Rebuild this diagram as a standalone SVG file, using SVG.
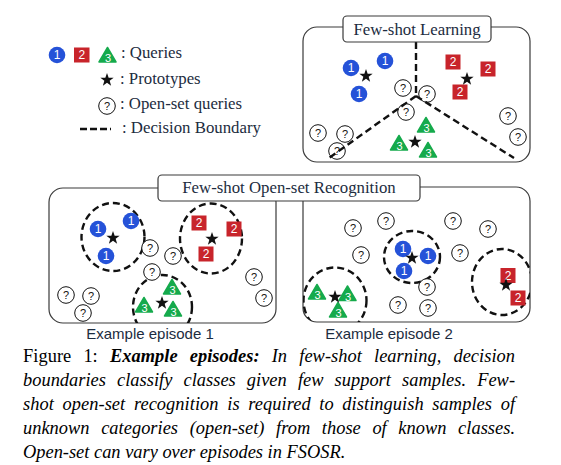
<svg xmlns="http://www.w3.org/2000/svg" xmlns:xlink="http://www.w3.org/1999/xlink" width="561" height="465" viewBox="0 0 561 465">
<style>
.box{fill:#fff;stroke:#3a3a3a;stroke-width:1.2}
.t{font-family:"Liberation Serif","Times New Roman",serif;font-size:16.8px;fill:#1c2c40}
.mid{text-anchor:middle}
.b{fill:#2552d8}
.r{fill:#c8242b}
.g{fill:#15aa4c;stroke:#15aa4c;stroke-width:1.5;stroke-linejoin:round}
.num{font-family:"Liberation Sans",Arial,sans-serif;font-size:12px;fill:#fff;text-anchor:middle}
.n3{font-family:"Liberation Sans",Arial,sans-serif;font-size:11px;fill:#fff;text-anchor:middle}
.q{fill:#fff;stroke:#111;stroke-width:1}
.qt{font-family:"Liberation Sans",Arial,sans-serif;font-size:11px;fill:#111;text-anchor:middle}
.dash{fill:none;stroke:#111;stroke-width:2.4;stroke-dasharray:7 4}
.star{fill:#111}
.ep{font-family:"Liberation Sans",Arial,sans-serif;font-size:15px;fill:#1c2c40;text-anchor:middle}
.cap{font-family:"Liberation Serif","Times New Roman",serif;font-size:18.4px;fill:#000}
</style>
<defs>
<path id="star" class="star" d="M0,-7 L1.65,-2.27 L6.66,-2.16 L2.66,0.87 L4.11,5.66 L0,2.8 L-4.11,5.66 L-2.66,0.87 L-6.66,-2.16 L-1.65,-2.27 Z"/>
<path id="tri" d="M0,-7.5 L8.5,7 L-8.5,7 Z"/>
<clipPath id="clip1"><rect x="49" y="188" width="227" height="135" rx="14"/></clipPath>
<clipPath id="clip2"><rect x="303" y="187" width="227" height="135" rx="14"/></clipPath>
</defs>

<g id="legend">
<circle class="b" cx="57" cy="55" r="8.3"/><text class="num" x="57" y="59.3">1</text>
<rect class="r" x="74" y="47.5" width="15.5" height="15"/><text class="num" x="81.8" y="59.3">2</text>
<use xlink:href="#tri" class="g" x="107.5" y="55"/><text class="n3" x="108" y="62">3</text>
<text class="t" x="121" y="58.3">: Queries</text>
<use xlink:href="#star" x="107" y="80"/>
<text class="t" x="120" y="84">: Prototypes</text>
<circle class="q" cx="107" cy="106" r="8.3"/><text class="qt" x="107" y="110">?</text>
<text class="t" x="120" y="109.3">: Open-set queries</text>
<line x1="80" y1="129" x2="111" y2="129" stroke="#111" stroke-width="2.4" stroke-dasharray="7 3"/>
<text class="t" x="122" y="133.3">: Decision Boundary</text>
</g>

<g id="few-shot-learning">
<rect class="box" x="303" y="27" width="227" height="135" rx="14"/>
<circle class="b" cx="351" cy="68" r="8.3"/><text class="num" x="351" y="72.3">1</text>
<circle class="b" cx="385" cy="61" r="8.3"/><text class="num" x="385" y="65.3">1</text>
<circle class="b" cx="359" cy="94" r="8.3"/><text class="num" x="359" y="98.3">1</text>
<use xlink:href="#star" x="366" y="76"/>
<rect class="r" x="445.5" y="54.5" width="15" height="15"/><text class="num" x="453" y="66.3">2</text>
<rect class="r" x="480.5" y="61.5" width="15" height="15"/><text class="num" x="488" y="73.3">2</text>
<rect class="r" x="452.5" y="84.5" width="15" height="15"/><text class="num" x="460" y="96.3">2</text>
<use xlink:href="#star" x="467" y="79"/>
<use xlink:href="#tri" class="g" x="426" y="125"/><text class="n3" x="426.5" y="132">3</text>
<use xlink:href="#tri" class="g" x="399" y="143"/><text class="n3" x="399.5" y="150">3</text>
<use xlink:href="#tri" class="g" x="428" y="150"/><text class="n3" x="428.5" y="157">3</text>
<use xlink:href="#star" x="415" y="142"/>
<circle class="q" cx="403" cy="88" r="8.3"/><text class="qt" x="403" y="92">?</text>
<circle class="q" cx="427" cy="94" r="8.3"/><text class="qt" x="427" y="98">?</text>
<circle class="q" cx="406" cy="112" r="8.3"/><text class="qt" x="406" y="116">?</text>
<circle class="q" cx="508" cy="116" r="8.3"/><text class="qt" x="508" y="120">?</text>
<circle class="q" cx="518" cy="137" r="8.3"/><text class="qt" x="518" y="141">?</text>
<circle class="q" cx="318" cy="133" r="8.3"/><text class="qt" x="318" y="137">?</text>
<circle class="q" cx="345" cy="134" r="8.3"/><text class="qt" x="345" y="138">?</text>
<circle class="q" cx="337" cy="151" r="8.3"/><text class="qt" x="337" y="155">?</text>
<g id="boundaries">
<line class="dash" x1="416" y1="42" x2="416" y2="96"/>
<line class="dash" x1="416" y1="96" x2="329" y2="158"/>
<line class="dash" x1="416" y1="96" x2="514" y2="158"/>
</g>
<rect class="box" x="343" y="16" width="148" height="26" rx="4"/>
<text class="t mid" x="417" y="35">Few-shot Learning</text>
</g>

<g id="episode-1">
<rect class="box" x="49" y="188" width="227" height="135" rx="14"/>
<g clip-path="url(#clip1)">
<ellipse class="dash" cx="113" cy="237" rx="31.5" ry="34"/>
<ellipse class="dash" cx="211" cy="238.5" rx="31" ry="35"/>
<ellipse class="dash" cx="162.5" cy="307" rx="29.5" ry="32"/>
</g>
<circle class="q" cx="150" cy="248" r="8.3"/><text class="qt" x="150" y="252">?</text>
<circle class="q" cx="173" cy="256" r="8.3"/><text class="qt" x="173" y="260">?</text>
<circle class="q" cx="152" cy="272" r="8.3"/><text class="qt" x="152" y="276">?</text>
<circle class="q" cx="254" cy="277" r="8.3"/><text class="qt" x="254" y="281">?</text>
<circle class="q" cx="264" cy="298" r="8.3"/><text class="qt" x="264" y="302">?</text>
<circle class="q" cx="66" cy="295" r="8.3"/><text class="qt" x="66" y="299">?</text>
<circle class="q" cx="91" cy="296" r="8.3"/><text class="qt" x="91" y="300">?</text>
<circle class="q" cx="83" cy="313" r="8.3"/><text class="qt" x="83" y="317">?</text>
<circle class="b" cx="98" cy="229" r="8.3"/><text class="num" x="98" y="233.3">1</text>
<circle class="b" cx="131" cy="221" r="8.3"/><text class="num" x="131" y="225.3">1</text>
<circle class="b" cx="106" cy="256" r="8.3"/><text class="num" x="106" y="260.3">1</text>
<use xlink:href="#star" x="113" y="238"/>
<rect class="r" x="191.5" y="215.5" width="15" height="15"/><text class="num" x="199" y="227.3">2</text>
<rect class="r" x="226.5" y="221.5" width="15" height="15"/><text class="num" x="234" y="233.3">2</text>
<rect class="r" x="198.5" y="246.5" width="15" height="15"/><text class="num" x="206" y="258.3">2</text>
<use xlink:href="#star" x="212" y="239"/>
<use xlink:href="#tri" class="g" x="172" y="287"/><text class="n3" x="172.5" y="294">3</text>
<use xlink:href="#tri" class="g" x="144" y="305"/><text class="n3" x="144.5" y="312">3</text>
<use xlink:href="#tri" class="g" x="173" y="309"/><text class="n3" x="173.5" y="316">3</text>
<use xlink:href="#star" x="162" y="303"/>
<text class="ep" x="150" y="339">Example episode 1</text>
</g>

<g id="episode-2">
<rect class="box" x="303" y="187" width="227" height="135" rx="14"/>
<g clip-path="url(#clip2)">
<ellipse class="dash" cx="412" cy="257" rx="28" ry="26"/>
<ellipse class="dash" cx="502" cy="282" rx="30" ry="33"/>
<ellipse class="dash" cx="335" cy="300.5" rx="31.5" ry="33"/>
</g>
<circle class="q" cx="353" cy="228" r="8.3"/><text class="qt" x="353" y="232">?</text>
<circle class="q" cx="386" cy="221" r="8.3"/><text class="qt" x="386" y="225">?</text>
<circle class="q" cx="453" cy="221" r="8.3"/><text class="qt" x="453" y="225">?</text>
<circle class="q" cx="488" cy="229" r="8.3"/><text class="qt" x="488" y="233">?</text>
<circle class="q" cx="361" cy="255" r="8.3"/><text class="qt" x="361" y="259">?</text>
<circle class="q" cx="460" cy="253" r="8.3"/><text class="qt" x="460" y="257">?</text>
<circle class="q" cx="427" cy="287" r="8.3"/><text class="qt" x="427" y="291">?</text>
<circle class="q" cx="398" cy="305" r="8.3"/><text class="qt" x="398" y="309">?</text>
<circle class="q" cx="428" cy="308" r="8.3"/><text class="qt" x="428" y="312">?</text>
<circle class="b" cx="403" cy="249" r="8.3"/><text class="num" x="403" y="253.3">1</text>
<circle class="b" cx="428" cy="256" r="8.3"/><text class="num" x="428" y="260.3">1</text>
<circle class="b" cx="404" cy="271" r="8.3"/><text class="num" x="404" y="275.3">1</text>
<use xlink:href="#star" x="412" y="258"/>
<rect class="r" x="500.5" y="268" width="15" height="15"/><text class="num" x="508" y="279.8">2</text>
<rect class="r" x="510.5" y="290.5" width="15" height="15"/><text class="num" x="518" y="302.3">2</text>
<use xlink:href="#star" x="506" y="285"/>
<use xlink:href="#tri" class="g" x="317" y="292"/><text class="n3" x="317.5" y="299">3</text>
<use xlink:href="#tri" class="g" x="347.5" y="293.5"/><text class="n3" x="348" y="300.5">3</text>
<use xlink:href="#tri" class="g" x="338" y="310"/><text class="n3" x="338.5" y="317">3</text>
<use xlink:href="#star" x="335" y="297"/>
<text class="ep" x="389" y="339">Example episode 2</text>
</g>

<g id="fsosr-title">
<rect class="box" x="158" y="175" width="262" height="26" rx="4"/>
<text class="t mid" x="289" y="193.3">Few-shot Open-set Recognition</text>
</g>

<g id="caption">
<text class="cap" x="23" y="362" word-spacing="7.5" textLength="492" lengthAdjust="spacing">Figure 1: <tspan font-weight="bold" font-style="italic">Example episodes:</tspan><tspan font-style="italic"> In few-shot learning, decision</tspan></text>
<text class="cap" x="23" y="386" font-style="italic" word-spacing="6.5" textLength="492" lengthAdjust="spacing">boundaries classify classes given few support samples. Few-</text>
<text class="cap" x="23" y="410" font-style="italic" word-spacing="4" textLength="492" lengthAdjust="spacing">shot open-set recognition is required to distinguish samples of</text>
<text class="cap" x="23" y="434" font-style="italic" word-spacing="7" textLength="492" lengthAdjust="spacing">unknown categories (open-set) from those of known classes.</text>
<text class="cap" x="23" y="458" font-style="italic">Open-set can vary over episodes in FSOSR.</text>
</g>
</svg>
